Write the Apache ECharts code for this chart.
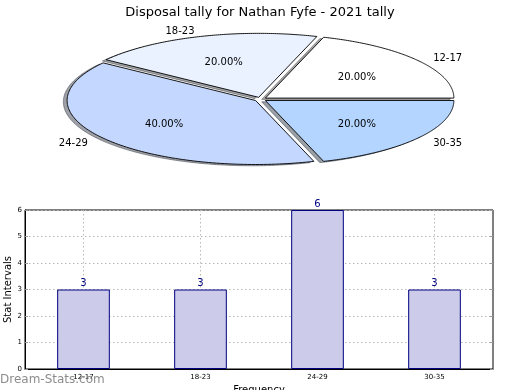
<!DOCTYPE html>
<html>
<head>
<meta charset="utf-8">
<script src="https://cdn.jsdelivr.net/npm/echarts@6/dist/echarts.min.js"></script>
<style>html,body{margin:0;padding:0;background:#fff}#c{width:520px;height:390px}</style>
</head>
<body>
<div id="c"></div>
<script>
var titleText = 'Disposal tally for Nathan Fyfe - 2021 tally';
var pieLabels = ['12-17', '18-23', '24-29', '30-35'];
var pieValues = [3, 3, 6, 3];
var pieColors = ['#ffffff', '#eaf1ff', '#c4d8ff', '#b3d5ff'];
var barCategories = ['12-17', '18-23', '24-29', '30-35'];
var barValues = [3, 3, 6, 3];
var yTicks = [0, 1, 2, 3, 4, 5, 6];

var FONT = 'DejaVu Sans';
var PIE = { cx: 260.5, cy: 99.3, rx: 188.5, ry: 64, explode: 0.032, shadow: -0.02, textDy: 1.5 };

function hexToRgb(h) {
  return [parseInt(h.substr(1,2),16), parseInt(h.substr(3,2),16), parseInt(h.substr(5,2),16)];
}

var total = pieValues.reduce(function(a,b){return a+b;}, 0);
var starts = [];
(function(){ var acc = 0; for (var i = 0; i < pieValues.length; i++) { starts.push(acc / total * 360); acc += pieValues[i]; } })();

function wedgePoints(ox, oy, a1, a2) {
  var pts = [[ox, oy]];
  var n = 120;
  for (var k = 0; k <= n; k++) {
    var t = (a1 + (a2 - a1) * k / n) * Math.PI / 180;
    pts.push([ox + PIE.rx * Math.cos(t), oy - PIE.ry * Math.sin(t)]);
  }
  return pts;
}

function renderPie(params, api) {
  var i = params.dataIndex;
  var v = api.value(1);
  var a1 = starts[i];
  var a2 = a1 + v / total * 360;
  var mid = (a1 + a2) / 2 * Math.PI / 180;
  var c = Math.cos(mid), s = Math.sin(mid);
  var ox = PIE.cx + PIE.explode * PIE.rx * c;
  var oy = PIE.cy - PIE.explode * PIE.ry * s;
  var rgb = hexToRgb(pieColors[i]);
  var sh = 'rgba(' + Math.round(rgb[0]*0.3) + ',' + Math.round(rgb[1]*0.3) + ',' + Math.round(rgb[2]*0.3) + ',0.5)';
  var sx = ox + PIE.shadow * PIE.rx, sy = oy - PIE.shadow * PIE.ry;
  var pct = (v / total * 100).toFixed(2) + '%';
  return {
    type: 'group',
    children: [
      { type: 'polygon', z2: 1, shape: { points: wedgePoints(sx, sy, a1, a2) }, style: { fill: sh, stroke: sh, lineWidth: 1 } },
      { type: 'polygon', z2: 10, shape: { points: wedgePoints(ox, oy, a1, a2) }, style: { fill: pieColors[i], stroke: '#000', lineWidth: 0.9 } },
      { type: 'text', z2: 20, x: ox + 0.6 * PIE.rx * c, y: oy - 0.6 * PIE.ry * s + PIE.textDy,
        style: { text: pct, fontFamily: FONT, fontSize: 10, fill: '#000', align: 'center', verticalAlign: 'middle' } },
      { type: 'text', z2: 20, x: ox + 1.1 * PIE.rx * c, y: oy - 1.1 * PIE.ry * s + PIE.textDy,
        style: { text: pieLabels[i], fontFamily: FONT, fontSize: 10, fill: '#000', align: c > 0 ? 'left' : 'right', verticalAlign: 'middle' } }
    ]
  };
}

var gridAxisLabels = [''];
barCategories.forEach(function(cat){ gridAxisLabels.push(cat); gridAxisLabels.push(''); });

var chart = echarts.init(document.getElementById('c'), null, { renderer: 'canvas' });
chart.setOption({
  animation: false,
  backgroundColor: '#fff',
  textStyle: { fontFamily: FONT },
  title: {
    text: titleText, left: 'center', top: 1,
    textStyle: { fontFamily: FONT, fontSize: 13, fontWeight: 'normal', color: '#000' }
  },
  grid: { left: 25, right: 27, top: 210, bottom: 21, outerBoundsMode: 'none', containLabel: false,
          show: true, borderColor: '#000', borderWidth: 1, backgroundColor: 'transparent' },
  xAxis: [
    {
      type: 'category', data: barCategories, boundaryGap: true,
      name: 'Frequency', nameLocation: 'middle', nameGap: 16, nameMoveOverlap: false,
      nameTextStyle: { fontFamily: FONT, fontSize: 10, color: '#000' },
      axisLine: { show: true, lineStyle: { color: '#000', width: 1 } },
      axisTick: { show: false },
      axisLabel: { fontFamily: FONT, fontSize: 7, color: '#000', margin: 5 },
      splitLine: { show: false }
    },
    {
      type: 'category', data: gridAxisLabels, boundaryGap: false, position: 'bottom',
      axisLine: { show: false },
      axisLabel: { show: false },
      axisTick: { show: true, inside: true, length: 3, interval: function(idx){ return idx % 2 === 1; }, lineStyle: { color: '#999' } },
      splitLine: { show: true, interval: function(idx){ return idx % 2 === 1; }, lineStyle: { color: '#b8b8b8', type: [1.5, 2.5], width: 1 } }
    }
  ],
  yAxis: [
    {
      type: 'value', min: yTicks[0], max: yTicks[yTicks.length-1], interval: 1,
      name: 'Stat Intervals', nameLocation: 'middle', nameGap: 12, nameRotate: 90, nameMoveOverlap: false,
      nameTextStyle: { fontFamily: FONT, fontSize: 10, color: '#000' },
      axisLine: { show: true, lineStyle: { color: '#000' } },
      axisTick: { show: true, inside: true, length: 3, lineStyle: { color: '#999' } },
      axisLabel: { fontFamily: FONT, fontSize: 7, color: '#000', margin: 3 },
      splitLine: { show: true, lineStyle: { color: '#b8b8b8', type: [1.5, 2.5], width: 1 } }
    },
    {
      type: 'value', min: yTicks[0], max: yTicks[yTicks.length-1], interval: 1, position: 'right',
      axisLine: { show: false },
      axisTick: { show: true, inside: true, length: 3, lineStyle: { color: '#999' } },
      axisLabel: { show: false },
      splitLine: { show: false }
    }
  ],
  graphic: [
    { type: 'text', left: 0, top: 374, z: 100,
      style: { text: 'Dream-Stats.com', fontFamily: FONT, fontSize: 12, fontWeight: 'normal', fill: 'rgba(120,120,120,0.85)' } }
  ],
  series: [
    {
      type: 'bar', xAxisIndex: 0, yAxisIndex: 0, data: barValues, barWidth: '45%', z: 1,
      itemStyle: { color: '#ccccea', borderColor: '#000080', borderWidth: 1 },
      label: { show: true, position: 'top', distance: 1, fontFamily: FONT, fontSize: 10, color: '#000080' }
    },
    {
      type: 'custom', coordinateSystem: 'none', renderItem: renderPie,
      data: pieValues.map(function(v, i){ return [i, v]; })
    }
  ]
});
</script>
</body>
</html>
